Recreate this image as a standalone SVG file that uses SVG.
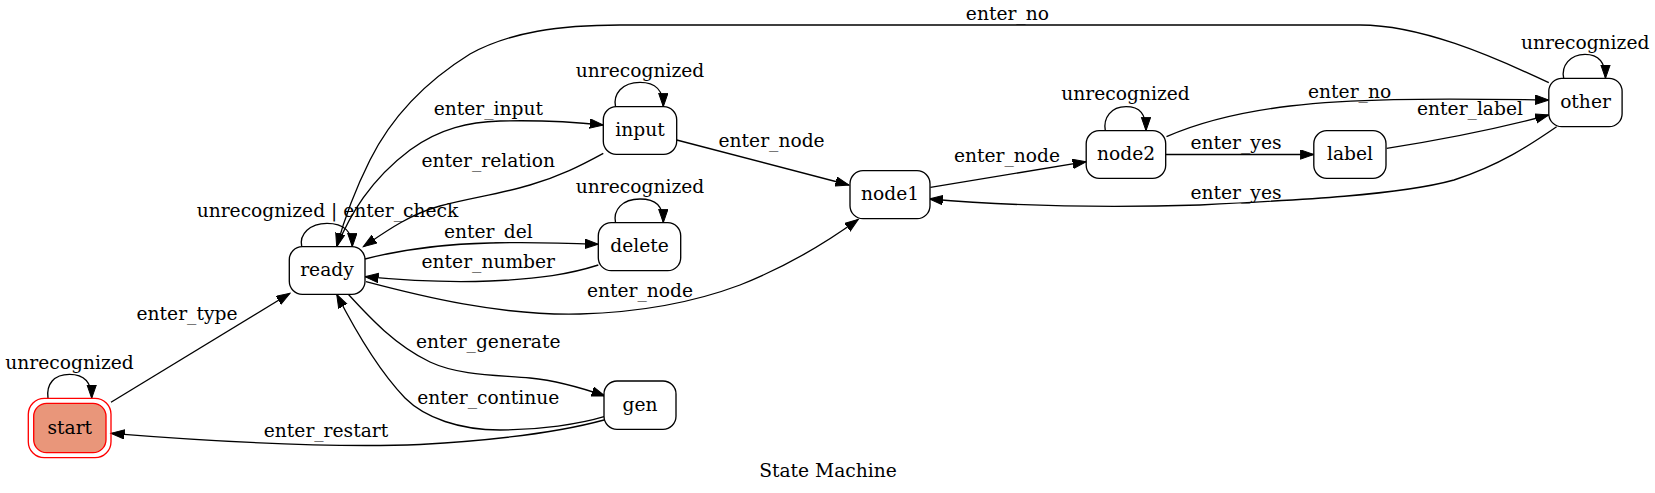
<svg xmlns="http://www.w3.org/2000/svg" width="1655" height="493" viewBox="0 0 1655 493">
<style>
text{font-family:"DejaVu Serif","Liberation Serif",serif;font-size:18.67px;fill:#000;text-anchor:middle}
.n{fill:#fff;stroke:#000;stroke-width:1.33}
.e{fill:none;stroke:#000;stroke-width:1.33;marker-end:url(#ah)}
</style>
<defs>
<marker id="ah" markerUnits="userSpaceOnUse" markerWidth="15" markerHeight="11" refX="13.5" refY="5" orient="auto">
<path d="M0,0.3 L13.5,5 L0,9.7 Z" fill="#000" stroke="#000" stroke-width="1"/>
</marker>
</defs>
<rect width="1655" height="493" fill="#fff"/>
<g id="connectors">
<path class="e" d="M48,398.3 C46,384 54,374.3 69.5,374.3 C84,374.3 91.7,382 91.7,398.3"/>
<path class="e" d="M111,402.3 L290,293.3"/>
<path class="e" d="M301.7,246.7 C299,234 310,223.3 327,223.3 C344,223.3 352.3,232 352.3,246.7"/>
<path class="e" d="M336.7,246.7 C350,215 370,180 410,150 C440,128 470,122 500,121 C540,120 575,122 603.3,125"/>
<path class="e" d="M603.3,153.3 C580,166 560,176 530,185 C500,194 470,198 440,206 C410,214 385,232 363.3,246.7"/>
<path class="e" d="M365,259 C400,250 440,244 490,243 C530,242 565,243 598.3,244.3"/>
<path class="e" d="M598.3,265 C570,274 540,279 490,281 C440,283 400,280 365,276.7"/>
<path class="e" d="M366,281.7 C420,296 500,316 580,314 C650,312 700,300 740,285 C790,265 830,240 858.3,219.3"/>
<path class="e" d="M348.3,294.3 C370,318 395,345 430,362 C460,376 500,375 530,378 C560,381 585,389 605,396"/>
<path class="e" d="M604,416.7 C580,424 540,430 500,430 C460,430 425,418 405,398 C380,372 355,330 336.7,294.3"/>
<path class="e" d="M604,420 C560,432 500,440 420,444.5 C330,448 220,442 111,433.3"/>
<path class="e" d="M615.5,106.7 C613,94 622,82.3 640,82.3 C656,82.3 663.3,90 663.3,106.7"/>
<path class="e" d="M615.5,222.7 C613,210 622,199 640,199 C656,199 663.3,206 663.3,222.7"/>
<path class="e" d="M676.7,140 L849,185"/>
<path class="e" d="M930.4,187.3 L1086.2,161.7"/>
<path class="e" d="M1105.3,130.7 C1103,118 1111,106.7 1126,106.7 C1140,106.7 1146,114 1146,130.7"/>
<path class="e" d="M1166,154.5 L1313.8,154.5"/>
<path class="e" d="M1166.5,136.7 C1200,122 1240,112 1290,106 C1350,99 1420,98 1548.8,100"/>
<path class="e" d="M1386.7,148.3 C1440,140 1500,128 1548.8,115"/>
<path class="e" d="M1563.7,78.3 C1561,66 1570,54.3 1585,54.3 C1599,54.3 1605.5,62 1605.5,78.3"/>
<path class="e" d="M1556.6,126.7 C1530,145 1500,165 1454,180 C1400,195 1300,200 1200,205 C1100,208 1000,205 929.3,199"/>
<path class="e" d="M1548.8,82.7 C1490,55 1420,25 1360,25 L620,25 C560,25 510,32 470,54 C420,85 390,120 370,160 C355,190 344,220 336.7,246.7"/>
</g>
<g id="edge-labels">
<text x="69.5" y="369">unrecognized</text>
<text x="187" y="320">enter_type</text>
<text x="327.5" y="216.7">unrecognized | enter_check</text>
<text x="488.3" y="115">enter_input</text>
<text x="488.3" y="166.7">enter_relation</text>
<text x="488.3" y="238.3">enter_del</text>
<text x="488.3" y="268.3">enter_number</text>
<text x="640" y="296.7">enter_node</text>
<text x="488.3" y="348.3">enter_generate</text>
<text x="488.3" y="404">enter_continue</text>
<text x="326" y="436.7">enter_restart</text>
<text x="640" y="77.3">unrecognized</text>
<text x="640" y="193.3">unrecognized</text>
<text x="771.6" y="146.7">enter_node</text>
<text x="1007" y="161.7">enter_node</text>
<text x="1007.4" y="19.5">enter_no</text>
<text x="1125.5" y="100">unrecognized</text>
<text x="1349.6" y="97.7">enter_no</text>
<text x="1470" y="115">enter_label</text>
<text x="1236" y="149">enter_yes</text>
<text x="1236" y="199">enter_yes</text>
<text x="1585.2" y="49.3">unrecognized</text>
</g>
<g id="start">
<rect x="28.3" y="398.3" width="82.7" height="59.4" rx="16" fill="none" stroke="#f00" stroke-width="1.33"/>
<rect x="33.7" y="403.3" width="72.3" height="49.4" rx="13" fill="#e9967a" stroke="#f00" stroke-width="1.33"/>
<text x="69.8" y="433.5">start</text>
</g>
<g id="ready"><rect class="n" x="289.3" y="246.7" width="75.7" height="47.6" rx="13"/><text x="327" y="276">ready</text></g>
<g id="input"><rect class="n" x="603.3" y="106.7" width="73.4" height="47.6" rx="13"/><text x="640" y="136">input</text></g>
<g id="delete"><rect class="n" x="598.3" y="222.7" width="82.4" height="48" rx="13"/><text x="639.5" y="252.2">delete</text></g>
<g id="gen"><rect class="n" x="604" y="381" width="72" height="48.3" rx="13"/><text x="640" y="410.5">gen</text></g>
<g id="node1"><rect class="n" x="850" y="170.7" width="80" height="48" rx="13"/><text x="890" y="200.2">node1</text></g>
<g id="node2"><rect class="n" x="1086.2" y="130.7" width="79.5" height="47.6" rx="13"/><text x="1126" y="160">node2</text></g>
<g id="label"><rect class="n" x="1313.8" y="130.7" width="72.2" height="47.6" rx="13"/><text x="1350" y="160">label</text></g>
<g id="other"><rect class="n" x="1548.8" y="78.3" width="73.3" height="48.4" rx="13"/><text x="1585.5" y="108">other</text></g>
<g id="title"><text x="828" y="477">State Machine</text></g>
</svg>
